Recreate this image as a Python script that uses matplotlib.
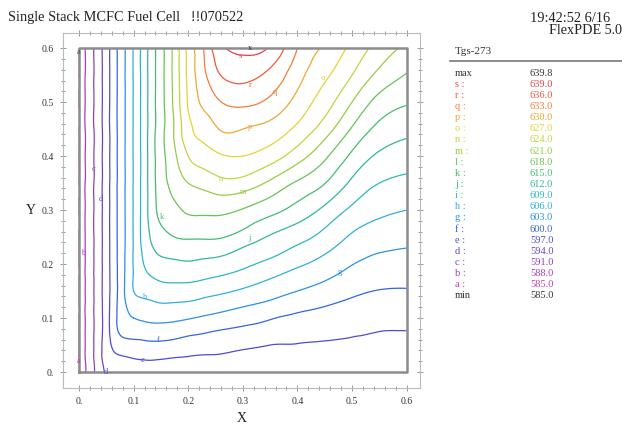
import numpy as np
import matplotlib
matplotlib.use("Agg")
import matplotlib.pyplot as plt
import matplotlib.tri as mtri

# ---------------- data ----------------
xs = [0.0, 0.01, 0.025, 0.05, 0.075, 0.1, 0.125, 0.15, 0.175, 0.2, 0.225, 0.25, 0.3, 0.35, 0.4, 0.45, 0.5, 0.55, 0.6]
ys = [0.0, 0.025, 0.05, 0.075, 0.1, 0.125, 0.15, 0.175, 0.2, 0.225, 0.25, 0.3, 0.35, 0.4, 0.45, 0.5, 0.55, 0.6]

# temperature (Tgs-273), one list per column x (bottom to top)
col_000 = [585.0] * 18
col_001 = [587.5] + [587.7] * 17
col_0025 = [590.4] + [590.6] * 17
col_005 = [594.5, 595.3] + [595.6] * 16
col_0075 = [596.0, 596.7, 598.4, 600.4, 601.0] + [601.07] * 13
col_010 = [596.0, 597.0, 599.1, 601.1, 603.0, 604.5, 606.0, 606.15] + [606.2] * 10
col_0125 = [596.0, 597.2, 599.3, 601.5, 603.6, 605.4, 607.0, 608.5, 609.7, 610.6, 611.3] + [611.8] * 7
col_015 = [596.0, 597.1, 599.3, 601.6, 603.8, 605.8, 607.65, 609.5, 611.1, 612.6, 613.8,
           616.0, 616.6, 616.85, 616.9, 616.9, 616.9, 616.9]
col_0175 = [596.0, 596.9, 599.0, 601.3, 603.6, 605.7, 607.8, 609.7, 611.4, 613.2, 615.0,
            617.5, 619.1, 620.45, 621.3, 621.8, 622.0, 622.0]
col_020 = [596.0, 596.8, 598.5, 600.8, 603.2, 605.5, 607.7, 609.75, 611.6, 613.5, 615.3,
           618.4, 621.0, 624.0, 626.1, 627.3, 627.7, 628.0]
col_0225 = [596.0, 596.7, 598.2, 600.4, 602.7, 605.0, 607.2, 609.4, 611.3, 613.3, 615.3,
            618.6, 621.9, 625.4, 628.0, 630.4, 631.8, 632.4]
col_025 = [596.0, 596.7, 598.0, 599.9, 602.2, 604.5, 606.7, 608.9, 611.0, 613.1, 615.3,
           618.7, 622.8, 626.4, 629.7, 632.4, 635.2, 637.2]
col_030 = [596.0, 596.6, 597.4, 599.2, 601.2, 603.4, 605.6, 607.7, 609.7, 611.5, 613.8,
           617.8, 622.8, 627.0, 630.0, 633.7, 636.9, 639.7]
col_035 = [596.0, 596.5, 597.0, 598.6, 600.2, 602.3, 604.3, 606.2, 608.2, 610.0, 611.7,
           616.0, 620.4, 625.5, 628.9, 632.3, 635.2, 638.7]
col_040 = [596.0, 596.4, 596.9, 598.1, 599.4, 601.1, 603.0, 604.7, 606.5, 608.3, 610.0,
           613.9, 617.6, 622.4, 626.3, 629.0, 631.1, 633.0]
col_045 = [596.0, 596.4, 596.8, 597.65, 598.9, 600.2, 601.8, 603.4, 604.9, 606.45, 608.0,
           611.3, 615.1, 618.6, 622.5, 625.4, 627.6, 629.6]
col_050 = [596.0, 596.4, 596.7, 597.3, 598.3, 599.4, 600.6, 601.9, 603.1, 604.4, 605.6,
           608.4, 611.4, 614.4, 617.7, 621.0, 624.0, 626.2]
col_055 = [596.0, 596.3, 596.7, 597.0, 597.9, 598.9, 599.9, 601.0, 602.1, 603.2, 604.4,
           606.7, 609.0, 611.5, 614.2, 616.9, 620.2, 622.8]
col_060 = [596.0, 596.3, 596.6, 596.95, 597.9, 598.8, 599.8, 600.8, 601.8, 602.8, 603.9,
           606.0, 608.2, 610.5, 612.8, 615.3, 617.8, 620.3]

columns = [col_000, col_001, col_0025, col_005, col_0075, col_010, col_0125, col_015, col_0175,
           col_020, col_0225, col_025, col_030, col_035, col_040, col_045, col_050, col_055, col_060]

level_names = list("abcdefghijklmnopqrs")
level_values = [585.0, 588.0, 591.0, 594.0, 597.0, 600.0, 603.0, 606.0, 609.0, 612.0,
                615.0, 618.0, 621.0, 624.0, 627.0, 630.0, 633.0, 636.0, 639.0]
level_colors = ['#c83cb4', '#a83cbc', '#8a40c4', '#6c44cc', '#4c4cd4', '#3466dc', '#2c90e4',
                '#30aee0', '#2cb8c0', '#30b898', '#44bc74', '#68c454', '#98cc44', '#c4d43c',
                '#e4d434', '#f0a834', '#ee8034', '#ec5c3c', '#e8404c']
t_max = 639.8
t_min = 585.0

# contour letter labels (letter, x, y)
label_letters = ['a', 'a', 'b', 'c', 'd', 'd', 'e', 'f', 'g', 'h', 'j', 'k', 'm', 'n', 'o', 'p', 'q', 'r', 's']
label_x = [0.0, 0.0, 0.008, 0.027, 0.040, 0.049, 0.117, 0.145, 0.478, 0.121, 0.313, 0.151, 0.300, 0.260, 0.447, 0.313, 0.359, 0.313, 0.295]
label_y = [0.593, 0.020, 0.220, 0.377, 0.320, 0.000, 0.023, 0.059, 0.186, 0.139, 0.248, 0.288, 0.334, 0.357, 0.544, 0.454, 0.519, 0.531, 0.585]
max_loc = (0.313, 0.600)

# ---------------- figure ----------------
serif = ['Liberation Serif', 'DejaVu Serif']
fig = plt.figure(figsize=(6.22, 4.25), dpi=100)
fig.patch.set_facecolor('white')

ax = fig.add_axes([63 / 622, 1 - 388 / 425, (420 - 63) / 622, (388 - 33) / 425])
ax.set_xlim(-0.0293, 0.6245)
ax.set_ylim(-0.0296, 0.628)

X, Y = np.meshgrid(np.array(xs), np.array(ys))
T = np.array(columns).T  # shape (len(ys), len(xs))
tri = mtri.Triangulation(X.ravel(), Y.ravel())
interp = mtri.CubicTriInterpolator(tri, T.ravel(), kind='min_E')
refiner = mtri.UniformTriRefiner(tri)
tri_r, T_r = refiner.refine_field(T.ravel(), triinterpolator=interp, subdiv=3)
levels_draw = [v + (0.05 if i == 0 else 0.0) for i, v in enumerate(level_values)]
ax.tricontour(tri_r, T_r, levels=levels_draw, colors=level_colors, linewidths=0.9)

# domain boundary
ax.plot([0, 0.6, 0.6, 0, 0], [0, 0, 0.6, 0.6, 0], color='#8c8c8c', lw=1.8, zorder=5)

# contour letters
for L, lx, ly in zip(label_letters, label_x, label_y):
    c = level_colors[level_names.index(L)]
    if L == 'a' and ly > 0.5:
        c = '#555555'
    ax.text(lx, ly, L, color=c, fontsize=6, ha='center', va='center', family=serif, zorder=6)
ax.text(max_loc[0], max_loc[1], 'x', color='#333333', fontsize=6, ha='center', va='center',
        family=serif, zorder=6)

ticks = [0, 0.1, 0.2, 0.3, 0.4, 0.5, 0.6]
ticklabels = ['0.', '0.1', '0.2', '0.3', '0.4', '0.5', '0.6']
ax.set_xticks(ticks)
ax.set_xticklabels(ticklabels)
ax.set_yticks(ticks)
ax.set_yticklabels(ticklabels)
ax.set_xticks(np.arange(0, 0.61, 0.02), minor=True)
ax.set_yticks(np.arange(0, 0.61, 0.02), minor=True)
ax.tick_params(which='both', direction='inout', top=True, right=True, colors='#888888',
               labelcolor='#333333', labelsize=7, width=0.6)
ax.tick_params(which='major', length=5, pad=4)
ax.tick_params(which='minor', length=2.5)
for lab in ax.get_xticklabels() + ax.get_yticklabels():
    lab.set_family(serif)
for sp in ax.spines.values():
    sp.set_color('#bbbbbb')
    sp.set_linewidth(0.8)
ax.set_xlabel('X', family=serif, fontsize=10, color='#222222', labelpad=4)
ax.set_ylabel('Y', family=serif, fontsize=10, color='#222222', rotation=0, labelpad=8,
              va='center')

# header texts
fig.text(8 / 622, 1 - 18 / 425, 'Single Stack MCFC Fuel Cell   !!070522', family=serif,
         fontsize=10.4, color='#222222', va='center', ha='left')
fig.text(530 / 622, 1 - 18 / 425, '19:42:52 6/16', family=serif, fontsize=10.4,
         color='#222222', va='center', ha='left')
fig.text(549 / 622, 1 - 30 / 425, 'FlexPDE 5.0', family=serif, fontsize=10.2,
         color='#222222', va='center', ha='left')

# legend panel
fig.text(455 / 622, 1 - 52 / 425, 'Tgs-273', family=serif, fontsize=8, color='#333333',
         va='center', ha='left')
fig.add_artist(plt.Line2D([450 / 622, 1.0], [1 - 61 / 425, 1 - 61 / 425], color='#777777',
                          lw=1.2, transform=fig.transFigure))
rows_names = ['max'] + [n + ' :' for n in level_names[::-1]] + ['min']
rows_vals = [t_max] + level_values[::-1] + [t_min]
rows_cols = ['#333333'] + level_colors[::-1] + ['#333333']
y0 = 73.0
dy = (296.0 - 73.0) / 20
for i, (nm, v, c) in enumerate(zip(rows_names, rows_vals, rows_cols)):
    yy = 1 - (y0 + i * dy) / 425
    fig.text(455 / 622, yy, nm, family=serif, fontsize=7.5, color=c, va='center', ha='left')
    fig.text(530 / 622, yy, f'{v:.1f}', family=serif, fontsize=7.5, color=c, va='center',
             ha='left')

fig.savefig('out.png', dpi=100)
